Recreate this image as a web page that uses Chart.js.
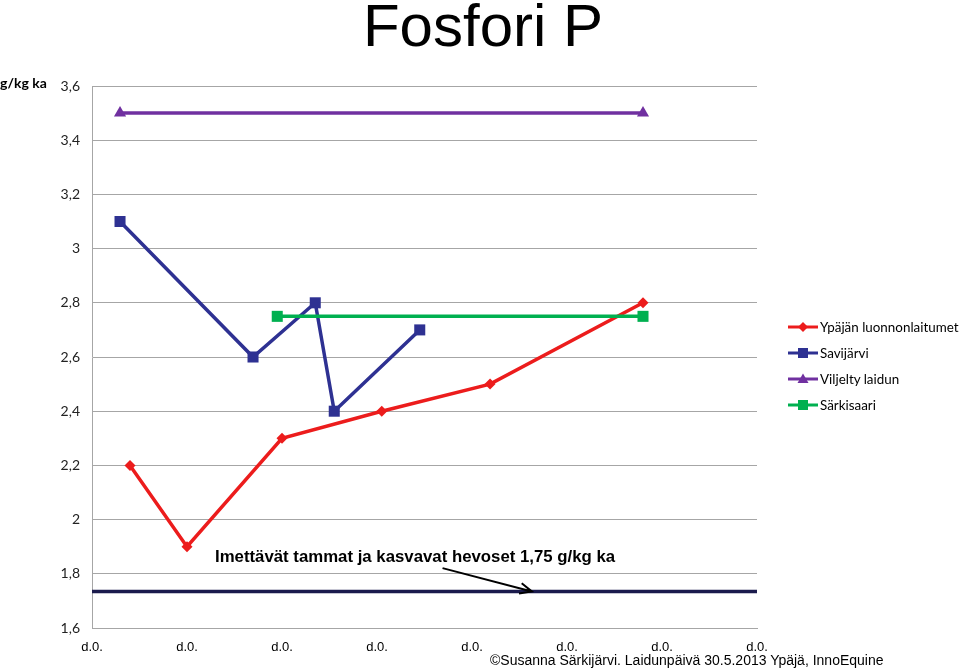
<!DOCTYPE html>
<html>
<head>
<meta charset="utf-8">
<script src="https://cdn.jsdelivr.net/npm/chart.js@4.4.0/dist/chart.umd.min.js"></script>
<style>
  html, body { margin:0; padding:0; background:#fff; }
  #wrap { position:relative; width:960px; height:670px; overflow:hidden; }
  canvas { position:absolute; left:0; top:0; }
  .t { position:absolute; white-space:nowrap; color:#000; }
  #title { left:0; width:966px; text-align:center; top:-9px; font:60px "Liberation Sans", Arial, sans-serif; }
  #unit { left:0; top:74px; font:bold 14px Lato, "Open Sans", sans-serif; }
  #note { left:215px; top:547px; font:bold 16.8px "Liberation Sans", Arial, sans-serif; }
  #copy { left:490px; top:652px; font:14px "Liberation Sans", Arial, sans-serif; }
  .lg { position:absolute; left:788px; font:13.4px Lato, sans-serif; color:#000; white-space:nowrap; display:flex; align-items:center; }
  .lg svg { margin-right:2px; }
</style>
</head>
<body>
<div id="wrap">
  <canvas id="c" width="960" height="670"></canvas>
  <div class="t" id="title">Fosfori P</div>
  <div class="t" id="unit">g/kg ka</div>
  <div class="t" id="note">Imettävät tammat ja kasvavat hevoset 1,75 g/kg ka</div>
  <div class="t" id="copy">©Susanna Särkijärvi. Laidunpäivä 30.5.2013 Ypäjä, InnoEquine</div>
  <div id="legend"></div>
</div>
<script>
// ---- data ----
const xTickLabels = ['d.0.','d.0.','d.0.','d.0.','d.0.','d.0.','d.0.','d.0.'];
const seriesNames = ['Ypäjän luonnonlaitumet','Savijärvi','Viljelty laidun','Särkisaari'];
const ypajaX = [0.40, 1.00, 2.00, 3.05, 4.19, 5.80];
const ypajaY = [2.2, 1.9, 2.3, 2.4, 2.5, 2.8];
const savijarviX = [0.295, 1.695, 2.35, 2.55, 3.45];
const savijarviY = [3.1, 2.6, 2.8, 2.4, 2.7];
const viljeltyX = [0.295, 5.80];
const viljeltyY = [3.5, 3.5];
const sarkisaariX = [1.95, 5.80];
const sarkisaariY = [2.75, 2.75];
const referenceLevel = 1.735;
const arrowFrom = {x: 3.69, y: 1.821};
const arrowTo = {x: 4.63, y: 1.735};

const colors = ['#ec1c1c', '#2e3192', '#7030a0', '#00b050'];
const shapes = ['rectRot', 'rect', 'triangle', 'rect'];
const radii = [5.5, 7.8, 7, 7.8];

function pts(xs, ys) { return xs.map((x, i) => ({x, y: ys[i]})); }
const seriesData = [pts(ypajaX, ypajaY), pts(savijarviX, savijarviY), pts(viljeltyX, viljeltyY), pts(sarkisaariX, sarkisaariY)];

const datasets = seriesData.map((d, i) => ({
  label: seriesNames[i], data: d, borderColor: colors[i], backgroundColor: colors[i],
  borderWidth: 3.5, pointStyle: shapes[i], pointRadius: radii[i], pointHoverRadius: radii[i],
  pointBorderWidth: 0, showLine: true, tension: 0, order: 4 - i
}));
datasets.unshift({
  label: 'ref', data: [{x: 0, y: referenceLevel}, {x: 7, y: referenceLevel}],
  borderColor: '#1b1b4d', borderWidth: 3.5, pointRadius: 0, showLine: true, order: 10
});

const arrowPlugin = {
  id: 'arrow',
  afterDatasetsDraw(chart) {
    const {ctx, scales: {x, y}} = chart;
    const x1 = x.getPixelForValue(arrowFrom.x), y1 = y.getPixelForValue(arrowFrom.y);
    const x2 = x.getPixelForValue(arrowTo.x), y2 = y.getPixelForValue(arrowTo.y);
    const a = Math.atan2(y2 - y1, x2 - x1), L = 13, s = 0.42;
    ctx.save();
    ctx.strokeStyle = '#000'; ctx.lineWidth = 2;
    ctx.beginPath(); ctx.moveTo(x1, y1); ctx.lineTo(x2, y2);
    ctx.moveTo(x2 - L * Math.cos(a - s), y2 - L * Math.sin(a - s));
    ctx.lineTo(x2, y2);
    ctx.lineTo(x2 - L * Math.cos(a + s), y2 - L * Math.sin(a + s));
    ctx.stroke();
    ctx.restore();
  }
};

new Chart(document.getElementById('c'), {
  type: 'scatter',
  data: { datasets },
  plugins: [arrowPlugin],
  options: {
    responsive: false, animation: false, devicePixelRatio: 1,
    layout: { padding: { left: 0, top: 86, right: 203, bottom: 0 } },
    plugins: { legend: { display: false }, tooltip: { enabled: false }, title: { display: false } },
    scales: {
      x: {
        type: 'linear', min: 0, max: 7,
        afterFit: s => { s.height = 42; },
        afterBuildTicks: s => { s.ticks = xTickLabels.map((_, i) => ({value: i})); },
        ticks: { callback: (v, i) => xTickLabels[i] ?? '', color: '#000', padding: 12, maxRotation: 0, autoSkip: false,
                 font: { family: '"Liberation Sans", Arial, sans-serif', size: 13 } },
        grid: { display: false, drawTicks: false },
        border: { display: true, color: '#a6a6a6', width: 1 }
      },
      y: {
        min: 1.6, max: 3.6,
        afterFit: s => { s.width = 92; },
        ticks: { stepSize: 0.2, color: '#222', padding: 12,
                 font: { family: 'Lato, "Open Sans", sans-serif', size: 14 },
                 callback: v => String(Number(v.toFixed(1))).replace('.', ',') },
        grid: { color: '#a6a6a6', lineWidth: 1, drawTicks: false },
        border: { display: true, color: '#a6a6a6', width: 1 }
      }
    }
  }
});

// ---- legend (HTML) ----
const legendTops = [319, 345, 371, 397];
const lg = document.getElementById('legend');
seriesNames.forEach((n, i) => {
  const d = document.createElement('div');
  d.className = 'lg'; d.style.top = legendTops[i] + 'px';
  let mark = '';
  if (shapes[i] === 'rectRot') mark = '<polygon points="15,3 20,8 15,13 10,8" fill="' + colors[i] + '"/>';
  else if (shapes[i] === 'rect') mark = '<rect x="10" y="3" width="10" height="10" fill="' + colors[i] + '"/>';
  else mark = '<polygon points="15,2.5 20.5,12 9.5,12" fill="' + colors[i] + '"/>';
  d.innerHTML = '<svg width="30" height="16"><line x1="0" y1="8" x2="30" y2="8" stroke="' + colors[i] + '" stroke-width="3"/>' + mark + '</svg><span>' + n + '</span>';
  lg.appendChild(d);
});
</script>
</body>
</html>
